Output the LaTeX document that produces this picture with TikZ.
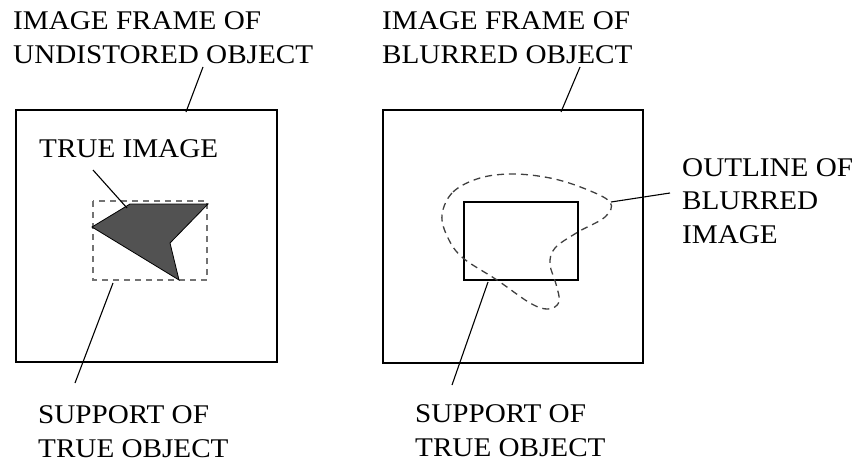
\documentclass[tikz,border=0pt]{standalone}
\usepackage{fontspec}
\setmainfont{Liberation Serif}[FakeStretch=1.08]
\begin{document}
\begin{tikzpicture}[x=1pt,y=-1pt,
  lbl/.style={font=\fontsize{27}{33.5}\selectfont, align=left, inner sep=0pt, anchor=base west},
  frame/.style={draw=black, line width=1.5pt},
  leader/.style={draw=black, line width=1.1pt},
  supportbox/.style={draw=black!55, line width=1.4pt, dash pattern=on 6pt off 5pt},
  blob/.style={draw=black!75, line width=1.3pt, dash pattern=on 7pt off 5pt},
  trueimg/.style={fill=black!68, draw=black, line width=0.8pt}]
\useasboundingbox (0,0) rectangle (858,463);
% frames
\draw[frame] (16,110) rectangle (277,362);
\draw[frame] (383,110) rectangle (643,363);
% left: support box and true image
\draw[supportbox] (93,201) rectangle (207,280);
\draw[trueimg] (92,227) -- (130,204) -- (208,204) -- (170,243) -- (179,280) -- cycle;
% right: support rect and blurred outline
\draw[line width=2pt] (464,202) rectangle (578,280);
\draw[blob] plot[smooth cycle, tension=0.6] coordinates {(442,215) (453,192) (480,178) (513,174) (550,178) (583,188) (610,202) (605,217) (578,232) (555,248) (550,264) (556,284) (559,302) (548,309) (530,303) (497,280) (463,258) (448,238)};
% labels (anchor at baseline of last line)
\node[lbl] (l1) at (13,63) {IMAGE FRAME OF\\UNDISTORED OBJECT};
\node[lbl] (l2) at (382,63) {IMAGE FRAME OF\\BLURRED OBJECT};
\node[lbl] (l3) at (39,157) {TRUE IMAGE};
\node[lbl] (l4) at (682,243) {OUTLINE OF\\BLURRED\\IMAGE};
\node[lbl] (l5) at (38,457) {SUPPORT OF\\TRUE OBJECT};
\node[lbl] (l6) at (415,456) {SUPPORT OF\\TRUE OBJECT};
% leader ends
\coordinate (a1) at (203,67); \coordinate (b1) at (186,112);
\coordinate (a2) at (580,67); \coordinate (b2) at (561,112);
\coordinate (a3) at (93,170); \coordinate (b3) at (127,208);
\coordinate (a4) at (670,193); \coordinate (b4) at (611,202);
\coordinate (a5) at (75,383); \coordinate (b5) at (113,283);
\coordinate (a6) at (452,385); \coordinate (b6) at (488,282);
\draw[leader] (a1) -- (b1);
\draw[leader] (a2) -- (b2);
\draw[leader] (a3) -- (b3);
\draw[leader] (a4) -- (b4);
\draw[leader] (a5) -- (b5);
\draw[leader] (a6) -- (b6);
\end{tikzpicture}
\end{document}
